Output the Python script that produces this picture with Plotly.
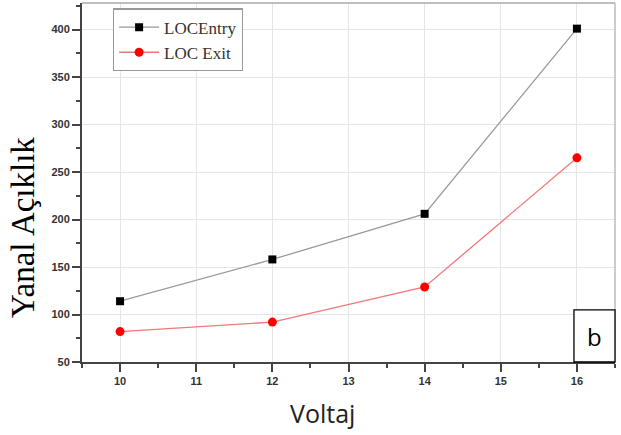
import plotly.graph_objects as go

voltaj = [10, 12, 14, 16]
loc_entry = [114, 158, 206, 401]
loc_exit = [82, 92, 129, 265]
x_ticks = [10, 11, 12, 13, 14, 15, 16]
y_ticks = [50, 100, 150, 200, 250, 300, 350, 400]

fig = go.Figure()
fig.add_trace(go.Scatter(x=voltaj, y=loc_entry, name="LOCEntry", mode="lines+markers",
                         line=dict(color="#9a9a9a", width=1.3),
                         marker=dict(symbol="square", color="black", size=8)))
fig.add_trace(go.Scatter(x=voltaj, y=loc_exit, name="LOC Exit", mode="lines+markers",
                         line=dict(color="#f07878", width=1.3),
                         marker=dict(symbol="circle", color="red", size=9)))

axis_common = dict(showline=True, linecolor="#444444", linewidth=2, ticks="outside",
                   ticklen=8, tickwidth=1.5, tickcolor="#444444", showgrid=True,
                   gridcolor="#e6e6e6", gridwidth=1, zeroline=False,
                   tickfont=dict(family="Arial", size=11, color="#333333", weight="bold"))

fig.update_xaxes(range=[9.5, 16.5], tickvals=x_ticks,
                 minor=dict(dtick=0.5, ticks="outside", ticklen=4, tickcolor="#444444", showgrid=False),
                 **axis_common)
fig.update_yaxes(range=[50, 428], tickvals=y_ticks,
                 minor=dict(dtick=25, ticks="outside", ticklen=4, tickcolor="#444444", showgrid=False),
                 **axis_common)

# light frame on top / right
fig.add_shape(type="line", xref="paper", yref="paper", x0=0, x1=1, y0=1, y1=1,
              line=dict(color="#aaaaaa", width=1.5))
fig.add_shape(type="line", xref="paper", yref="paper", x0=1, x1=1, y0=0, y1=1,
              line=dict(color="#bbbbbb", width=1.5))

# "b" box
fig.add_shape(type="rect", xref="paper", yref="paper", x0=0.923, x1=1.0, y0=0.0, y1=0.145,
              line=dict(color="black", width=1.3), fillcolor="white")
fig.add_annotation(xref="paper", yref="paper", x=0.9615, y=0.072, text="b", showarrow=False,
                   xanchor="center", yanchor="middle",
                   font=dict(family="Open Sans", size=24, color="black"))

# axis titles
fig.add_annotation(xref="paper", yref="paper", x=-0.112, y=0.374, text="Yanal Açıklık",
                   textangle=-90, showarrow=False, xanchor="center", yanchor="middle",
                   font=dict(family="Liberation Serif, Times New Roman", size=33, color="black"))
fig.add_annotation(xref="paper", yref="paper", x=0.452, y=-0.142, text="Voltaj",
                   showarrow=False, xanchor="center", yanchor="middle",
                   font=dict(family="Open Sans", size=25, color="#222222"))

fig.update_layout(
    width=621, height=435,
    margin=dict(l=82, r=6, t=3, b=73),
    paper_bgcolor="white", plot_bgcolor="white",
    showlegend=True,
    legend=dict(x=0.058, y=0.985, xanchor="left", yanchor="top",
                bordercolor="#999999", borderwidth=1.2, bgcolor="white",
                font=dict(family="Liberation Serif, Times New Roman", size=17, color="#333333"),
                tracegroupgap=0, itemwidth=40),
)

fig.write_html("out.html")
